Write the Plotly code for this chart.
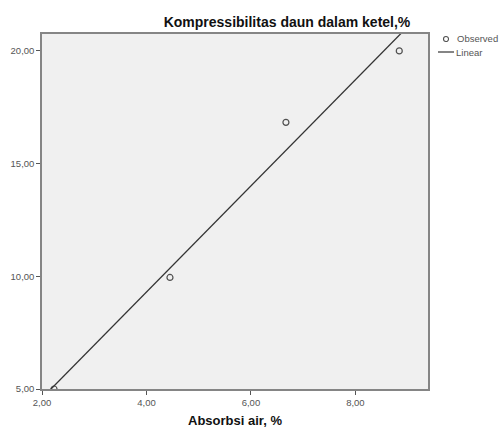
import numpy as np
import plotly.graph_objects as go

# Data
absorbsi_air = [2.23, 4.45, 6.67, 8.84]
kompressibilitas = [5.00, 9.95, 16.83, 20.00]

x_ticks = [2, 4, 6, 8]
x_tick_labels = ["2,00", "4,00", "6,00", "8,00"]
y_ticks = [5, 10, 15, 20]
y_tick_labels = ["5,00", "10,00", "15,00", "20,00"]

title_text = "Kompressibilitas daun dalam ketel,%"
x_title = "Absorbsi air, %"
legend_labels = ["Observed", "Linear"]

x_range = [2.0, 9.39]
y_range = [5.0, 20.75]

# Linear fit line
slope, intercept = np.polyfit(absorbsi_air, kompressibilitas, 1)
fit_x = np.array(x_range)
fit_y = slope * fit_x + intercept

FONT = "Liberation Sans, Arial, sans-serif"
W, H = 499, 428
ML, MR, MT, MB = 42, 71, 34, 39
PW, PH = W - ML - MR, H - MT - MB


def px(x):
    return (x - ML) / PW


def py(y):
    return (H - MB - y) / PH


fig = go.Figure()
fig.add_trace(go.Scatter(
    x=absorbsi_air, y=kompressibilitas, mode="markers", name=legend_labels[0],
    marker=dict(symbol="circle-open", size=6, color="#505050", line=dict(width=1.2, color="#505050")),
    cliponaxis=True, showlegend=False,
))
fig.add_trace(go.Scatter(
    x=fit_x, y=fit_y, mode="lines", name=legend_labels[1],
    line=dict(color="#333333", width=1.3), showlegend=False,
))

# Manual legend (SPSS style)
fig.add_shape(type="circle", xref="paper", yref="paper", xsizemode="pixel", ysizemode="pixel",
              xanchor=px(446), yanchor=py(39), x0=-2.5, x1=2.5, y0=-2.5, y1=2.5,
              line=dict(color="#505050", width=1.1))
fig.add_shape(type="line", xref="paper", yref="paper", xsizemode="pixel", ysizemode="pixel",
              xanchor=px(446), yanchor=py(52), x0=-8, x1=8, y0=0, y1=0,
              line=dict(color="#333333", width=1.2))

fig.update_layout(
    width=W, height=H,
    margin=dict(l=ML, r=MR, t=MT, b=MB, autoexpand=False),
    paper_bgcolor="white",
    plot_bgcolor="#f0f0f0",
    showlegend=False,
    title=dict(text="<b>" + title_text + "</b>", x=287 / W, xanchor="center", y=1 - 22 / H, yanchor="middle",
               xref="container", yref="container",
               font=dict(family=FONT, size=14, color="#111111")),
    xaxis=dict(range=x_range, tickvals=x_ticks, ticktext=x_tick_labels,
               tickfont=dict(family=FONT, size=9.5, color="#555555"),
               showgrid=False, zeroline=False, showline=True, mirror=True, linecolor="#858585",
               linewidth=1.5, ticks="outside", ticklen=4, tickcolor="#555555",
               title=dict(text="<b>" + x_title + "</b>", standoff=12,
                          font=dict(family=FONT, size=13, color="#111111"))),
    yaxis=dict(range=y_range, tickvals=y_ticks, ticktext=y_tick_labels,
               tickfont=dict(family=FONT, size=9.5, color="#555555"),
               showgrid=False, zeroline=False, showline=True, mirror=True, linecolor="#858585",
               linewidth=1.5, ticks="outside", ticklen=4, tickcolor="#555555"),
    annotations=[
        dict(text=legend_labels[0], xref="paper", yref="paper", x=px(455), y=py(39),
             xanchor="left", yanchor="middle", showarrow=False,
             font=dict(family=FONT, size=9.5, color="#555555")),
        dict(text=legend_labels[1], xref="paper", yref="paper", x=px(454), y=py(52),
             xanchor="left", yanchor="middle", showarrow=False,
             font=dict(family=FONT, size=9.5, color="#555555")),
    ],
)

fig.write_html("out.html", config={"displayModeBar": False},
               post_script="document.body.style.margin='0';")
